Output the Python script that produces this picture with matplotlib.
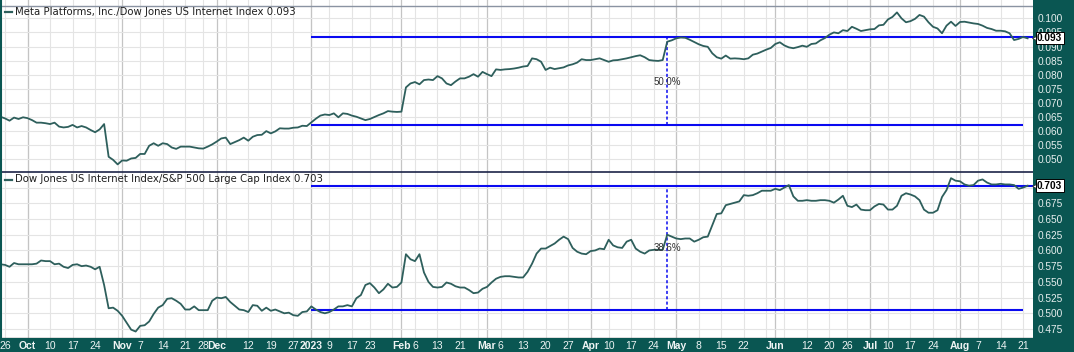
import numpy as np
import pandas as pd
import matplotlib
matplotlib.use('Agg')
import matplotlib.pyplot as plt

# %%
holidays = ['2022-11-24', '2022-12-26', '2023-01-02', '2023-01-16', '2023-02-20',
            '2023-04-07', '2023-05-29', '2023-06-19', '2023-07-04']
dates = pd.bdate_range('2022-09-23', '2023-08-22', freq='C', holidays=holidays)

# Meta / DJ US Internet ratio, one value per trading day
meta_ratio = [
    .0651, .0645, .0637, .0648, .0643, .0649, .0646, .0639, .0630, .0630,
    .0628, .0625, .0630, .0616, .0613, .0615, .0622, .0613, .0618, .0613,
    .0604, .0596, .0606, .0625, .0509, .0498, .0482, .0496, .0495, .0503,
    .0505, .0519, .0519, .0548, .0557, .0548, .0557, .0554, .0542, .0537,
    .0545, .0545, .0545, .0542, .0539, .0538, .0545, .0553, .0563, .0574,
    .0577, .0554, .0561, .0568, .0577, .0566, .0580, .0586, .0587, .0600,
    .0592, .0599, .0610, .0609, .0609, .0612, .0613, .0619, .0618, .0631,
    .0644, .0655, .0659, .0657, .0663, .0649, .0663, .0661, .0655, .0651,
    .0645, .0639, .0643, .0650, .0657, .0663, .0671, .0669, .0668, .0669,
    .0755, .0769, .0774, .0766, .0781, .0783, .0781, .0795, .0787, .0769,
    .0763, .0776, .0787, .0787, .0793, .0802, .0793, .0810, .0802, .0795,
    .0819, .0817, .0819, .0820, .0822,
    .0825, .0829, .0831, .0858, .0855, .0846, .0817, .0825, .0820, .0823,
    .0826, .0833, .0837, .0843, .0855, .0852, .0852, .0855, .0858, .0852,
    .0846, .0851, .0852, .0855, .0858, .0862, .0866, .0869, .0862, .0852,
    .0850, .0849, .0852, .0917, .0922, .0929, .0932, .0931, .0924, .0916,
    .0908, .0902, .0899, .0876, .0862, .0857, .0868, .0857, .0858, .0857,
    .0855, .0858, .0871, .0875, .0882, .0889, .0895, .0909, .0915, .0904,
    .0897, .0894, .0898, .0903, .0899, .0909, .0911, .0922, .0930, .0942,
    .0950, .0947, .0958, .0955, .0970, .0963, .0955, .0958, .0961, .0962,
    .0975, .0977, .0996, .1005, .1021, .1000, .0986, .0990, .0998, .1012,
    .1006, .0986, .0970, .0964, .0947, .0974, .0988, .0973, .0987, .0988,
    .0985, .0982, .0980, .0974, .0966, .0962, .0956, .0956, .0954, .0947,
    .0923, .0927, .0934, .0929,
]

# DJ US Internet / S&P 500 Large Cap ratio
inet_ratio = [
    .578, .577, .574, .580, .578, .578, .578, .578, .579, .584,
    .583, .583, .578, .579, .574, .572, .577, .578, .575, .576,
    .574, .570, .574, .545, .508, .509, .504, .496, .485, .474,
    .471, .480, .481, .487, .499, .509, .513, .523, .524, .520,
    .515, .506, .506, .511, .505, .505, .505, .520, .525, .524,
    .526, .518, .512, .506, .505, .502, .513, .512, .504, .509,
    .504, .506, .503, .500, .501, .497, .496, .502, .503, .511,
    .506, .502, .500, .502, .506, .511, .511, .513, .511, .524,
    .529, .545, .548, .541, .532, .538, .547, .541, .542, .549,
    .594, .586, .583, .594, .565, .550, .542, .541, .542, .549,
    .547, .543, .541, .541, .537, .532, .533, .539, .542, .549,
    .555, .558, .559, .559, .558,
    .557, .557, .566, .579, .595, .603, .603, .607, .611, .617,
    .622, .618, .604, .598, .595, .594, .599, .600, .603, .602,
    .617, .608, .605, .604, .614, .617, .603, .598, .595, .600,
    .601, .601, .601, .625, .622, .619, .618, .619, .619, .614,
    .617, .621, .622, .640, .658, .659, .672, .674, .676, .678,
    .688, .687, .688, .691, .695, .695, .695, .698, .696, .700,
    .704, .686, .679, .679, .680, .679, .679, .680, .680, .679,
    .676, .681, .687, .671, .669, .673, .665, .664, .664, .670,
    .674, .673, .665, .665, .671, .687, .691, .689, .686, .680,
    .665, .660, .660, .664, .685, .696, .715, .711, .710, .705,
    .703, .704, .711, .713, .708, .705, .705, .706, .705, .705,
    .704, .698, .700, .703,
]

top_title = 'Meta Platforms, Inc./Dow Jones US Internet Index 0.093'
bot_title = 'Dow Jones US Internet Index/S&P 500 Large Cap Index 0.703'
top_last, bot_last = '0.093', '0.703'

# channel lines drawn on the chart (low, high) and the % annotation
chan_start, chan_end, mark_date = '2023-01-03', '2023-08-21', '2023-04-27'
top_chan = (0.0622, 0.0935)
bot_chan = (0.505, 0.702)
top_pct, bot_pct = '50.0%', '38.6%'
top_pct_y, bot_pct_y = 0.0774, 0.604

top_ticks = np.round(np.arange(0.050, 0.1001, 0.005), 3)
bot_ticks = np.round(np.arange(0.475, 0.7001, 0.025), 3)
hidden_ticks = [0.700]   # sits under the last-value box

tick_dates = ['2022-09-26', '2022-10-03', '2022-10-10', '2022-10-17', '2022-10-24',
              '2022-11-01', '2022-11-07', '2022-11-14', '2022-11-21', '2022-11-28',
              '2022-12-01', '2022-12-12', '2022-12-19', '2022-12-27', '2023-01-03',
              '2023-01-09', '2023-01-17', '2023-01-23', '2023-02-01', '2023-02-06',
              '2023-02-13', '2023-02-21', '2023-03-01', '2023-03-06', '2023-03-13',
              '2023-03-20', '2023-03-27', '2023-04-03', '2023-04-10', '2023-04-17',
              '2023-04-24', '2023-05-01', '2023-05-08', '2023-05-15', '2023-05-22',
              '2023-06-01', '2023-06-12', '2023-06-20', '2023-06-26', '2023-07-03',
              '2023-07-10', '2023-07-17', '2023-07-24', '2023-08-01', '2023-08-07',
              '2023-08-14', '2023-08-21']
tick_text = ['26', 'Oct', '10', '17', '24', 'Nov', '7', '14', '21', '28', 'Dec', '12',
             '19', '27', '2023', '9', '17', '23', 'Feb', '6', '13', '21', 'Mar', '6',
             '13', '20', '27', 'Apr', '10', '17', '24', 'May', '8', '15', '22', 'Jun',
             '12', '20', '26', 'Jul', '10', '17', '24', 'Aug', '7', '14', '21']

# %%
BG = '#0A5652'
LINE = '#2E5F5C'
BLUE = '#0A0AF0'
x = np.arange(len(dates))
pos = {d: i for i, d in enumerate(dates)}
def xi(d):
    return pos[pd.Timestamp(d)]

week_first = dates.to_series().groupby(dates.to_period('W')).first().values
month_first = dates.to_series().groupby(dates.to_period('M')).first().values

W, H = 1074, 352
fig = plt.figure(figsize=(W / 100, H / 100), dpi=100, facecolor=BG)
ax1 = fig.add_axes([2 / W, 180 / H, 1031 / W, 172 / H])
ax2 = fig.add_axes([2 / W, 14 / H, 1031 / W, 166 / H])

xl = (0.33, 229.2)
panels = [(ax1, meta_ratio, (0.0455, 0.1065), top_ticks, top_chan, top_pct, top_pct_y,
           top_title, top_last, 1 - 12 / 172),
          (ax2, inet_ratio, (0.4607, 0.7248), bot_ticks, bot_chan, bot_pct, bot_pct_y,
           bot_title, bot_last, 1 - 7.5 / 166)]

for ax, vals, yl, yt, chan, pct, pct_y, title, last, ty in panels:
    ax.set_facecolor('white')
    ax.set_xlim(*xl)
    ax.set_ylim(*yl)
    for s in ax.spines.values():
        s.set_visible(False)
    for d in week_first:
        ax.axvline(xi(d), color='#E4E4E4', lw=0.8, zorder=0)
    for d in month_first:
        ax.axvline(xi(d), color='#C4C4C4', lw=0.9, zorder=0)
    ax.set_yticks(yt)
    ax.set_yticklabels(['' if v in hidden_ticks else '%.3f' % v for v in yt])
    ax.grid(axis='y', color='#E4E4E4', lw=0.8, zorder=0)
    ax.set_axisbelow(True)
    ax.yaxis.tick_right()
    ax.tick_params(axis='y', length=0, pad=3, labelsize=7.3, labelcolor='#E6EEEE')
    for t in ax.get_yticklabels():
        t.set_fontfamily('Liberation Sans')

    ax.plot(x, vals, color=LINE, lw=1.3, zorder=4)

    s0, s1, m = xi(chan_start), xi(chan_end), xi(mark_date)
    ax.hlines(chan[1], s0, xl[1], color=BLUE, lw=1.5, zorder=3)
    ax.hlines(chan[0], s0, s1, color=BLUE, lw=1.5, zorder=3)
    ax.vlines(m, chan[0], chan[1], color=BLUE, lw=1.1, linestyles=(0, (2, 1.5)), zorder=3)
    ax.text(m, pct_y, pct, ha='center', va='center', fontsize=7,
            family='Liberation Sans', color='#333333', zorder=5)

    # legend dash + series name
    ax.plot([0.003, 0.0095], [ty, ty], transform=ax.transAxes, color=LINE, lw=1.6,
            clip_on=False)
    ax.text(0.0125, ty, title, transform=ax.transAxes, ha='left', va='center',
            fontsize=7.3, color='#1E1E1E')

    # last value box on the price axis
    lv = float(last)
    ax.plot([1.0015], [lv], marker='<', ms=4.5, mfc='white', mec='#333333', mew=0.6,
            transform=ax.get_yaxis_transform(), clip_on=False, zorder=6)
    ax.annotate(last, xy=(1.004, lv), xycoords=('axes fraction', 'data'),
                ha='left', va='center', fontsize=7.3, fontweight='bold',
                family='Liberation Sans', color='black', annotation_clip=False,
                bbox=dict(boxstyle='square,pad=0.12', fc='white', ec='black', lw=0.7),
                zorder=7)

ax1.axhline(0.1045, color='#8A93A2', lw=1.0, zorder=2)
ax1.axhline(0.0455, color='#1C2448', lw=1.2, zorder=6)
ax2.axhline(0.7248, color='#1C2448', lw=1.2, zorder=6)
ax2.axhline(0.4607, color='#555555', lw=1.0, zorder=6)

ax1.set_xticks([])
ax2.set_xticks([xi(d) for d in tick_dates])
ax2.set_xticklabels(tick_text)
ax2.tick_params(axis='x', length=0, pad=2.5, labelsize=7.5, labelcolor='#EEF4F4')
for t in ax2.get_xticklabels():
    t.set_fontfamily('Liberation Sans')
    if not t.get_text().isdigit() or t.get_text() == '2023':
        t.set_fontweight('bold')

fig.savefig('out.png', dpi=100, facecolor=BG)
